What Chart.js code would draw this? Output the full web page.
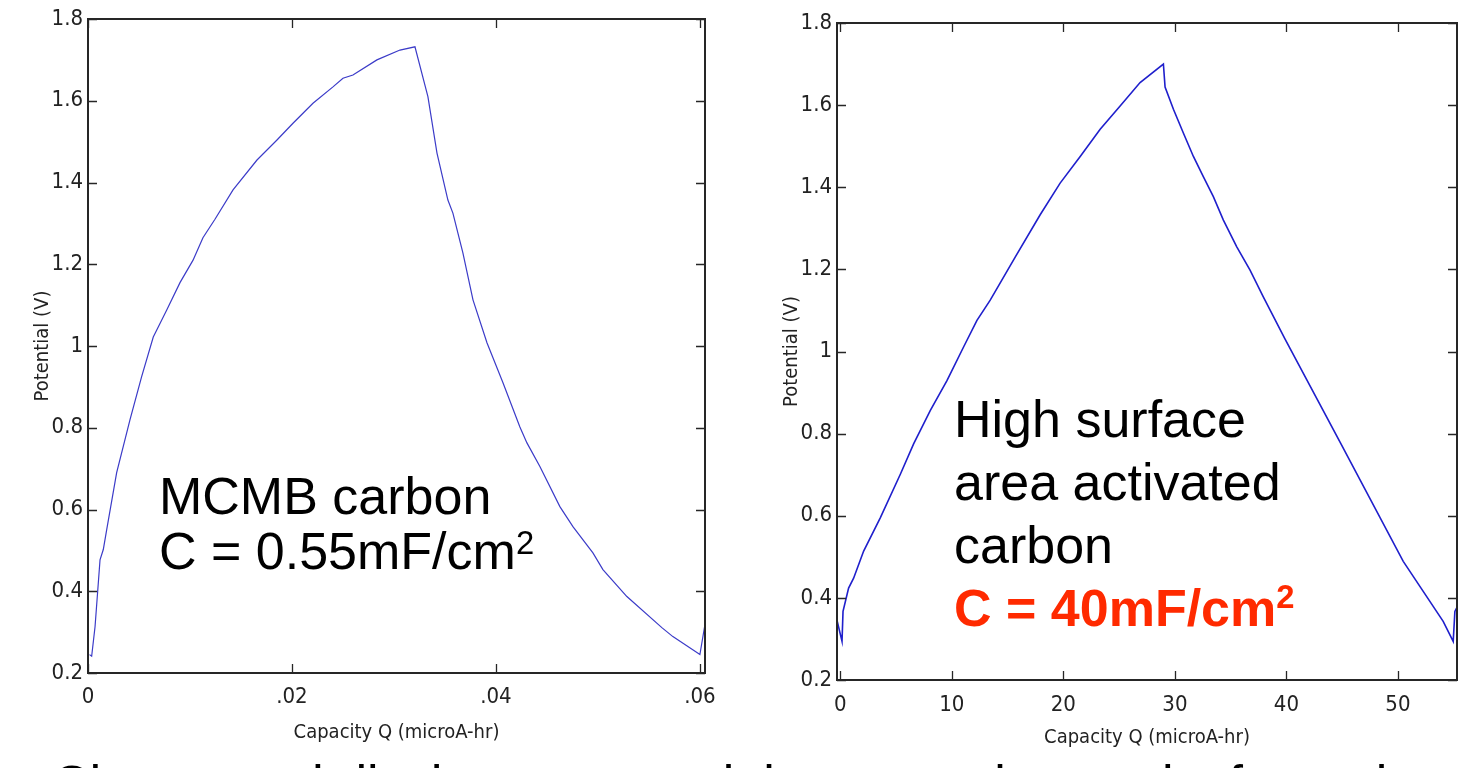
<!DOCTYPE html>
<html>
<head>
<meta charset="utf-8">
<script src="https://cdn.jsdelivr.net/npm/chart.js@4.4.1/dist/chart.umd.min.js"></script>
<style>
	html, body { margin: 0; padding: 0; background: #fff; }
	body { width: 1470px; height: 768px; overflow: hidden; position: relative; }
	canvas { position: absolute; top: 0; display: block; }
	#chartLeft { left: 0; }
	#chartRight { left: 750px; }
	.note { position: absolute; font-family: 'Liberation Sans', Arial, sans-serif; font-size: 52px; color: #000; white-space: nowrap; }
	.note sup { font-size: 0.63em; vertical-align: baseline; position: relative; line-height: 0; }
	#noteLeft { left: 159px; top: 469px; line-height: 55px; }
	#noteLeft sup { top: -0.45em; }
	#noteRight { left: 954px; top: 388px; line-height: 63px; }
	#noteRight sup { top: -0.55em; }
	.red { color: #ff2a00; font-weight: bold; }
	#caption { left: 52px; top: 757px; line-height: 55px; }
</style>
</head>
<body>
<canvas id="chartLeft" width="730" height="745"></canvas>
<canvas id="chartRight" width="720" height="750"></canvas>
<div class="note" id="noteLeft">MCMB carbon<br>C = 0.55mF/cm<sup>2</sup></div>
<div class="note" id="noteRight">High surface<br>area activated<br>carbon<br><span class="red">C = 40mF/cm<sup>2</sup></span></div>
<div class="note" id="caption">Charge and discharge potential vs capacity results for carbon</div>
<script>
// MCMB carbon, capacity (microA-hr) / potential (V)
var mcmbQ = [0.00015, 0.00036, 0.00069, 0.00118, 0.0015, 0.00183, 0.00281, 0.00412, 0.00526, 0.0064,
	0.00772, 0.00902, 0.0103, 0.01127, 0.01245, 0.01422, 0.01657, 0.01853, 0.0201, 0.02206,
	0.02402, 0.025, 0.02598, 0.02833, 0.03059, 0.03206, 0.03333, 0.03422, 0.03529, 0.03578,
	0.03676, 0.03775, 0.03912, 0.04069, 0.04235, 0.04304, 0.04431, 0.04627, 0.04755, 0.04951,
	0.05049, 0.05284, 0.05627, 0.05735, 0.06, 0.06049];
var mcmbV = [0.245, 0.241, 0.313, 0.477, 0.502, 0.55, 0.69, 0.82, 0.925, 1.022,
	1.088, 1.155, 1.21, 1.265, 1.31, 1.382, 1.455, 1.504, 1.545, 1.594,
	1.634, 1.655, 1.663, 1.70, 1.724, 1.732, 1.61, 1.472, 1.357, 1.325,
	1.228, 1.113, 1.008, 0.91, 0.802, 0.763, 0.705, 0.607, 0.558, 0.494,
	0.453, 0.387, 0.311, 0.289, 0.245, 0.318];

// activated carbon
var activQ = [-0.28, 0.15, 0.24, 0.74, 1.19, 2.09, 3.58, 5.38, 6.57, 8.06,
	9.56, 11.05, 12.25, 13.44, 15.68, 17.92, 19.71, 21.51, 23.30, 25.09,
	26.88, 28.97, 29.12, 29.87, 30.76, 31.66, 32.55, 33.45, 34.35, 35.55,
	36.74, 37.93, 39.87, 44.8, 50.48, 54.06, 54.96, 55.11, 55.26];
var activV = [0.343, 0.294, 0.367, 0.424, 0.448, 0.514, 0.595, 0.701, 0.775, 0.856,
	0.929, 1.011, 1.076, 1.125, 1.23, 1.333, 1.41, 1.475, 1.541, 1.598,
	1.655, 1.70, 1.644, 1.59, 1.532, 1.475, 1.426, 1.377, 1.32, 1.255,
	1.198, 1.133, 1.031, 0.78, 0.489, 0.343, 0.294, 0.367, 0.375];

var yTicks = [0.2, 0.4, 0.6, 0.8, 1, 1.2, 1.4, 1.6, 1.8];
var yLabels = ['0.2', '0.4', '0.6', '0.8', '1', '1.2', '1.4', '1.6', '1.8'];
var mcmbXTicks = [0, 0.02, 0.04, 0.06];
var mcmbXLabels = ['0', '.02', '.04', '.06'];
var activXTicks = [0, 10, 20, 30, 40, 50];
var activXLabels = ['0', '10', '20', '30', '40', '50'];

var cdplot = {};

cdplot.tickFont = { family: "'Liberation Sans Narrow', 'DejaVu Sans Condensed', Arial, sans-serif", size: 22 };
cdplot.titleFont = { family: "'Liberation Sans Narrow', 'DejaVu Sans Condensed', Arial, sans-serif", size: 20 };

// matlab style frame, ticks point inward on all four sides
cdplot.boxPlugin = {
	id: 'matlabBox',
	afterDatasetsDraw: function(chart) {
		var ctx = chart.ctx;
		var a = chart.chartArea;
		var xs = chart.scales.x;
		var ys = chart.scales.y;
		var len = 9;

		ctx.save();
		ctx.strokeStyle = '#262626';
		ctx.lineWidth = 1.3;
		ctx.beginPath();
		xs.ticks.forEach(function(t) {
			var px = Math.round(xs.getPixelForValue(t.value)) + 0.5;
			ctx.moveTo(px, a.bottom); ctx.lineTo(px, a.bottom - len);
			ctx.moveTo(px, a.top); ctx.lineTo(px, a.top + len);
		});
		ys.ticks.forEach(function(t) {
			var py = Math.round(ys.getPixelForValue(t.value)) + 0.5;
			ctx.moveTo(a.left, py); ctx.lineTo(a.left + len, py);
			ctx.moveTo(a.right, py); ctx.lineTo(a.right - len, py);
		});
		ctx.stroke();

		ctx.lineWidth = 2;
		ctx.strokeRect(a.left, a.top, a.right - a.left, a.bottom - a.top);
		ctx.restore();
	}
};

cdplot.points = function(qs, vs) {
	var arr = [];
	for (var i = 0; i < qs.length; i++) {
		arr.push({ x: qs[i], y: vs[i] });
	}
	return arr;
};

cdplot.make = function(id, cfg) {
	var ctx = document.getElementById(id);

	return new Chart(ctx, {
		type: 'line',
		data: {
			datasets: [{
				data: cdplot.points(cfg.q, cfg.v),
				borderColor: cfg.color,
				borderWidth: cfg.lineWidth,
				pointRadius: 0,
				tension: 0,
				fill: false
			}]
		},
		options: {
			responsive: false,
			animation: false,
			events: [],
			layout: { padding: { top: cfg.padTop, right: cfg.padRight, bottom: 0, left: 0 } },
			plugins: {
				legend: { display: false },
				tooltip: { enabled: false }
			},
			scales: {
				x: {
					type: 'linear',
					min: cfg.xMin,
					max: cfg.xMax,
					afterFit: function(s) { s.height = cfg.xBox; },
					afterBuildTicks: function(s) {
						s.ticks = cfg.xTicks.map(function(v) { return { value: v }; });
					},
					grid: { display: false, drawTicks: false },
					border: { display: false },
					ticks: {
						padding: cfg.xPad,
						maxRotation: 0,
						color: '#222',
						font: cdplot.tickFont,
						callback: function(value) {
							var i = cfg.xTicks.indexOf(value);
							return i < 0 ? '' : cfg.xLabels[i];
						}
					},
					title: {
						display: true,
						text: 'Capacity Q (microA-hr)',
						color: '#222',
						font: cdplot.titleFont,
						padding: { top: 0, bottom: 0 }
					}
				},
				y: {
					min: 0.2,
					max: 1.8,
					afterFit: function(s) { s.width = cfg.yBox; },
					afterBuildTicks: function(s) {
						s.ticks = yTicks.map(function(v) { return { value: v }; });
					},
					grid: { display: false, drawTicks: false },
					border: { display: false },
					ticks: {
						padding: 5,
						color: '#222',
						font: cdplot.tickFont,
						callback: function(value) {
							var i = yTicks.indexOf(value);
							return i < 0 ? '' : yLabels[i];
						}
					},
					title: {
						display: true,
						text: 'Potential (V)',
						color: '#222',
						font: cdplot.titleFont,
						padding: { top: cfg.yTitlePad, bottom: 0 }
					}
				}
			}
		},
		plugins: [cdplot.boxPlugin]
	});
};

cdplot.init = function() {
	cdplot.make('chartLeft', {
		q: mcmbQ, v: mcmbV,
		color: '#3b3bc8', lineWidth: 1.2,
		xMin: 0, xMax: 0.0605,
		xTicks: mcmbXTicks, xLabels: mcmbXLabels,
		padTop: 19, padRight: 25,
		xBox: 72, yBox: 88,
		xPad: 11, yTitlePad: 31
	});

	cdplot.make('chartRight', {
		q: activQ, v: activV,
		color: '#1f1fcc', lineWidth: 1.6,
		xMin: -0.3, xMax: 55.3,
		xTicks: activXTicks, xLabels: activXLabels,
		padTop: 23, padRight: 13,
		xBox: 70, yBox: 87,
		xPad: 12, yTitlePad: 30
	});
};

cdplot.init();
</script>
</body>
</html>
